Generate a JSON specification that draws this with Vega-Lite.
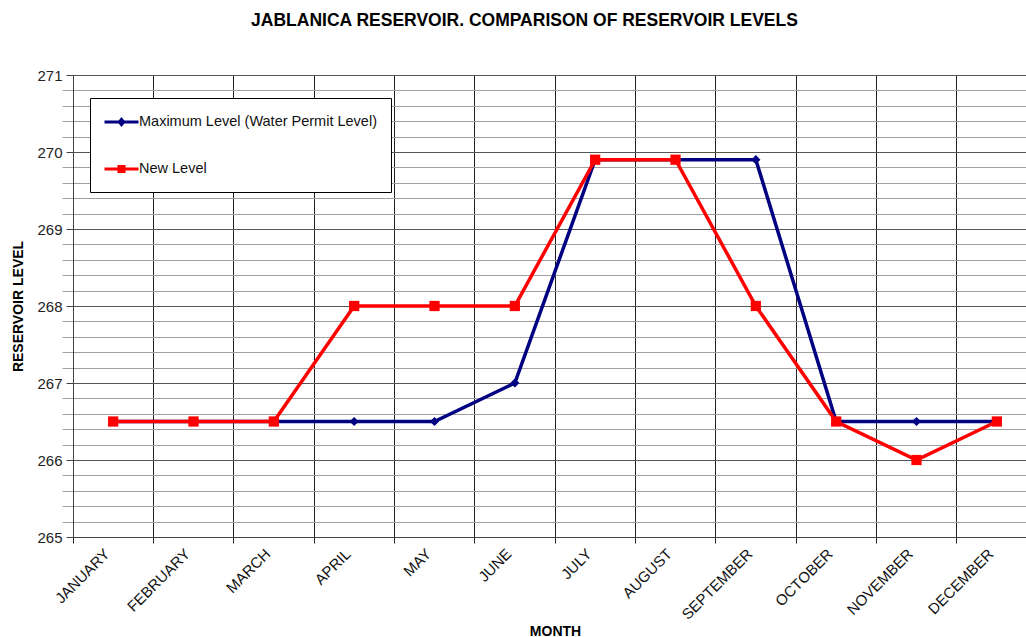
{
  "$schema": "https://vega.github.io/schema/vega-lite/v6.json",
  "width": 953,
  "height": 462,
  "autosize": {"type": "none"},
  "padding": {"left": 73, "top": 75, "right": 0, "bottom": 100},
  "background": "white",
  "title": {
    "text": "JABLANICA RESERVOIR. COMPARISON OF RESERVOIR LEVELS",
    "fontSize": 17.5,
    "fontWeight": "bold",
    "font": "Liberation Sans",
    "color": "#000",
    "anchor": "middle",
    "frame": "group",
    "dx": -25,
    "offset": 25,
    "baseline": "alphabetic"
  },
  "config": {"view": {"stroke": null}, "font": "Liberation Sans"},
  "data": {
    "values": [
      {"month": "JANUARY", "series": "Maximum Level (Water Permit Level)", "level": 266.5},
      {"month": "FEBRUARY", "series": "Maximum Level (Water Permit Level)", "level": 266.5},
      {"month": "MARCH", "series": "Maximum Level (Water Permit Level)", "level": 266.5},
      {"month": "APRIL", "series": "Maximum Level (Water Permit Level)", "level": 266.5},
      {"month": "MAY", "series": "Maximum Level (Water Permit Level)", "level": 266.5},
      {"month": "JUNE", "series": "Maximum Level (Water Permit Level)", "level": 267},
      {"month": "JULY", "series": "Maximum Level (Water Permit Level)", "level": 269.9},
      {"month": "AUGUST", "series": "Maximum Level (Water Permit Level)", "level": 269.9},
      {"month": "SEPTEMBER", "series": "Maximum Level (Water Permit Level)", "level": 269.9},
      {"month": "OCTOBER", "series": "Maximum Level (Water Permit Level)", "level": 266.5},
      {"month": "NOVEMBER", "series": "Maximum Level (Water Permit Level)", "level": 266.5},
      {"month": "DECEMBER", "series": "Maximum Level (Water Permit Level)", "level": 266.5},
      {"month": "JANUARY", "series": "New Level", "level": 266.5},
      {"month": "FEBRUARY", "series": "New Level", "level": 266.5},
      {"month": "MARCH", "series": "New Level", "level": 266.5},
      {"month": "APRIL", "series": "New Level", "level": 268},
      {"month": "MAY", "series": "New Level", "level": 268},
      {"month": "JUNE", "series": "New Level", "level": 268},
      {"month": "JULY", "series": "New Level", "level": 269.9},
      {"month": "AUGUST", "series": "New Level", "level": 269.9},
      {"month": "SEPTEMBER", "series": "New Level", "level": 268},
      {"month": "OCTOBER", "series": "New Level", "level": 266.5},
      {"month": "NOVEMBER", "series": "New Level", "level": 266},
      {"month": "DECEMBER", "series": "New Level", "level": 266.5}
    ]
  },
  "encoding": {
    "x": {
      "field": "month",
      "type": "nominal",
      "sort": ["JANUARY", "FEBRUARY", "MARCH", "APRIL", "MAY", "JUNE", "JULY", "AUGUST", "SEPTEMBER", "OCTOBER", "NOVEMBER", "DECEMBER"],
      "scale": {"type": "band", "range": [0, 964], "paddingInner": 0, "paddingOuter": 0},
      "axis": {
        "title": "MONTH",
        "bandPosition": 0,
        "grid": true,
        "gridColor": "#222",
        "gridWidth": 1,
        "gridOpacity": 1,
        "tickColor": "#222",
        "tickSize": 6,
        "domainColor": "#444",
        "labelAngle": -45,
        "labelAlign": "right",
        "labelBaseline": "middle",
        "labelOffset": -6,
        "labelPadding": 8,
        "labelFontSize": 15,
        "labelColor": "#111",
        "labelFont": "Liberation Sans",
        "titleFont": "Liberation Sans",
        "titleFontSize": 14,
        "titleFontWeight": "bold",
        "titleColor": "#000",
        "titleX": 482,
        "titleY": 98,
        "titleBaseline": "alphabetic"
      }
    }
  },
  "layer": [
    {
      "mark": {"type": "line", "strokeWidth": 3.5},
      "encoding": {
        "y": {
          "field": "level",
          "type": "quantitative",
          "scale": {"domain": [265, 271], "nice": false, "zero": false},
          "axis": {
            "values": [265, 266, 267, 268, 269, 270, 271],
            "grid": true,
            "gridColor": "#555",
            "gridOpacity": 1,
            "tickColor": "#444",
            "tickSize": 7,
            "domainColor": "#444",
            "labelFontSize": 15,
            "labelPadding": 4,
            "labelColor": "#222",
            "labelFont": "Liberation Sans",
            "title": "RESERVOIR LEVEL",
            "titleFont": "Liberation Sans",
            "titleFontSize": 14,
            "titleFontWeight": "bold",
            "titleColor": "#000",
            "titleX": -55,
            "titleY": 231,
            "titleBaseline": "middle",
            "titleAngle": 270
          }
        },
        "color": {
          "field": "series",
          "type": "nominal",
          "scale": {"domain": ["Maximum Level (Water Permit Level)", "New Level"], "range": ["#000080", "#ff0000"]},
          "legend": {
            "title": null,
            "orient": "none",
            "legendX": 17,
            "legendY": 23,
            "strokeColor": "#000",
            "fillColor": "#fff",
            "padding": 14,
            "rowPadding": 28,
            "symbolSize": 289,
            "symbolOffset": 7.5,
            "labelOffset": 7.5,
            "labelLimit": 400,
            "labelFontSize": 14.5,
            "labelFont": "Liberation Sans",
            "labelColor": "#111",
            "symbolStrokeWidth": 3,
            "symbolType": "M-2,0H2M0,-0.28L0.28,0L0,0.28L-0.28,0Z",
            "encode": {
              "symbols": {
                "update": {
                  "shape": {"signal": "datum.value === 'New Level' ? 'M-2,0H2M-0.3,-0.3H0.3V0.3H-0.3Z' : 'M-2,0H2M0,-0.3L0.25,0L0,0.3L-0.25,0Z'"},
                  "size": {"value": 289},
                  "fill": {"signal": "datum.value === 'New Level' ? '#ff0000' : '#000080'"},
                  "stroke": {"signal": "datum.value === 'New Level' ? '#ff0000' : '#000080'"},
                  "strokeWidth": {"value": 3},
                  "opacity": {"value": 1},
                  "fillOpacity": {"value": 1},
                  "strokeOpacity": {"value": 1}
                }
              }
            }
          }
        }
      }
    },
    {
      "transform": [{"filter": "datum.series === 'Maximum Level (Water Permit Level)'"}],
      "mark": {"type": "point", "filled": true, "opacity": 1, "size": 85, "shape": "diamond"},
      "encoding": {
        "y": {
          "field": "level",
          "type": "quantitative",
          "axis": {
            "orient": "right",
            "values": [265.2, 265.4, 265.6, 265.8, 266.2, 266.4, 266.6, 266.8, 267.2, 267.4, 267.6, 267.8, 268.2, 268.4, 268.6, 268.8, 269.2, 269.4, 269.6, 269.8, 270.2, 270.4, 270.6, 270.8],
            "grid": true,
            "gridColor": "#a0a0a0",
            "gridOpacity": 1,
            "domain": false,
            "ticks": false,
            "labels": false,
            "title": null
          }
        },
        "color": {"field": "series", "type": "nominal", "legend": null}
      }
    },
    {
      "transform": [{"filter": "datum.series === 'New Level'"}],
      "mark": {"type": "point", "filled": true, "opacity": 1, "size": 105, "shape": "square"},
      "encoding": {
        "y": {"field": "level", "type": "quantitative", "axis": null},
        "color": {"field": "series", "type": "nominal", "legend": null}
      }
    }
  ],
  "resolve": {"axis": {"y": "independent"}}
}
